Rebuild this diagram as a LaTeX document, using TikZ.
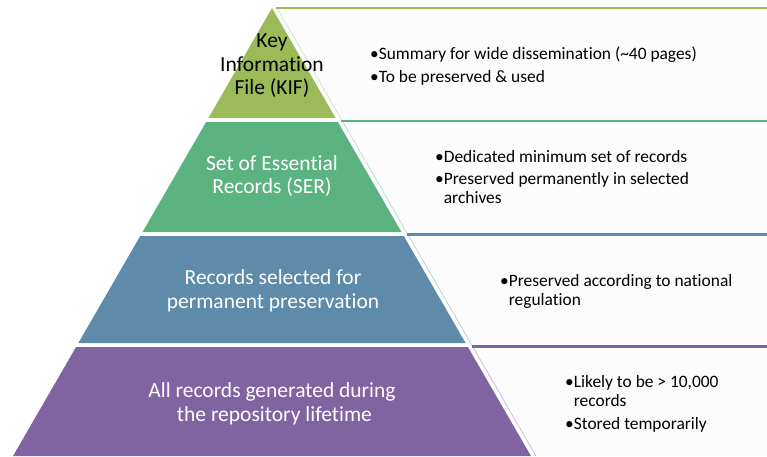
\documentclass[tikz,border=0pt]{standalone}
\usepackage{fontspec}
\setmainfont{Carlito}[Ligatures=NoCommon]
\definecolor{lvA}{RGB}{155,187,89}
\definecolor{lvB}{RGB}{91,179,127}
\definecolor{lvC}{RGB}{95,139,170}
\definecolor{lvD}{RGB}{128,100,162}
\definecolor{boxfill}{RGB}{252,252,252}
\tikzset{
  pyrtext/.style={align=center,inner sep=0pt,font=\fontsize{21.5}{23.5}\selectfont},
  bul/.style={anchor=base west,inner sep=0pt,font=\fontsize{17.4}{20}\selectfont,text=black},
  topline/.style={line width=2.8pt},
  sideline/.style={line width=0.7pt},
}
\begin{document}
\begin{tikzpicture}[x=1pt,y=-1pt]
\useasboundingbox (0,0) rectangle (767,456);
\def\sl{0.578}
% right boxes
\foreach \ya/\yb/\c in {8/121/lvA,121/234.5/lvB,234.5/346.5/lvC,346.5/456/lvD}{
  \fill[boxfill] ({277+\sl*(\ya-8)},\ya) -- (767,\ya) -- (767,\yb) -- ({277+\sl*(\yb-8)},\yb) -- cycle;
  \draw[sideline,\c!45] ({277+\sl*(\ya-8)},\ya) -- ({277+\sl*(\yb-8)},\yb);
  \draw[topline,\c] ({276+\sl*(\ya-8)},\ya) -- (767,\ya);
}
% pyramid levels
\fill[lvA] (272,8) -- ({272+\sl*110},118) -- ({272-\sl*110},118) -- cycle;
\foreach \ya/\yb/\c in {122/232/lvB,236/343/lvC,347/456/lvD}{
  \fill[\c] ({272-\sl*(\ya-8)},\ya) -- ({272+\sl*(\ya-8)},\ya) -- ({272+\sl*(\yb-8)},\yb) -- ({272-\sl*(\yb-8)},\yb) -- cycle;
}
% pyramid texts
\node[pyrtext,text=black] (kif) at (272,66) {Key\\Information\\File (KIF)};
\node[pyrtext,text=white] (ser) at (272,176) {Set of Essential\\Records (SER)};
\node[pyrtext,text=white] (sel) at (273,291) {Records selected for\\permanent preservation};
\node[pyrtext,text=white] (all) at (272,404) {All records generated during\\\ the repository lifetime};
% bullet texts
\node[bul] (a1) at (370,59) {•Summary for wide dissemination (\textasciitilde40 pages)};
\node[bul] (a2) at (370,82) {•To be preserved \& used};
\node[bul] (b1) at (435,162) {•Dedicated minimum set of records};
\node[bul] (b2) at (435,184) {•Preserved permanently in selected};
\node[bul] (b3) at (435,203) {\phantom{•}archives};
\node[bul] (c1) at (500,286) {•Preserved according to national};
\node[bul] (c2) at (500,305) {\phantom{•}regulation};
\node[bul] (d1) at (565,387) {•Likely to be > 10,000};
\node[bul] (d2) at (565,406) {\phantom{•}records};
\node[bul] (d3) at (565,429) {•Stored temporarily};
\end{tikzpicture}
\end{document}
